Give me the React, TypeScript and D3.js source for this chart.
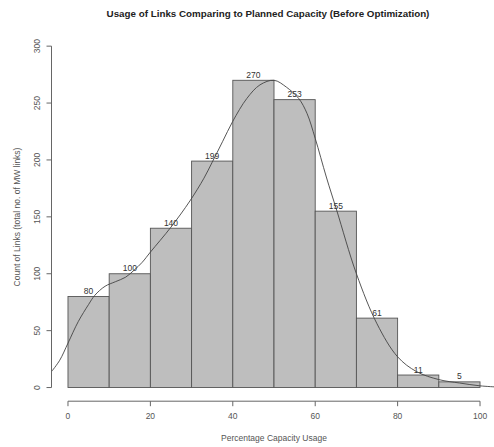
import React from 'react'
import * as d3 from 'd3'

// histogram bins (percentage capacity usage, width 10)
const binStarts = [0, 10, 20, 30, 40, 50, 60, 70, 80, 90]
const counts = [80, 100, 140, 199, 270, 253, 155, 61, 11, 5]

// density curve scaled to counts
const curveX = [-4, -2, 0, 2.5, 5, 6.5, 9, 11.5, 14, 16, 18, 20, 25, 29.6, 33, 35, 37.5, 40, 43.4, 46.6, 50, 53, 56, 58, 60, 62.7, 65.2, 70, 75, 80, 84.6, 90, 95, 100, 104]
const curveY = [14, 24, 39, 58, 73, 81, 89, 93, 97, 103, 110, 119, 141, 164, 184, 198, 216, 234, 254, 266, 270, 264, 254, 241, 219, 185, 156, 100, 56, 27, 14, 7, 4, 1.5, 0.5]

const xTicks = [0, 20, 40, 60, 80, 100]
const yTicks = [0, 50, 100, 150, 200, 250, 300]

const W = 494
const H = 447

export default function App() {
  // R style plot region: 4% padding around the data range
  const x = d3.scaleLinear().domain([-4, 104]).range([51.5, 496.5])
  const y = d3.scaleLinear().domain([-12, 312]).range([401.2, 32.5])

  const line = d3.line<number>()
    .x((d, i) => x(curveX[i]))
    .y(d => y(d))
    .curve(d3.curveCatmullRom)

  const axisY = y(-12)
  const axisX = x(-4)
  const font = 'Liberation Sans, Arial, sans-serif'

  return (
    <svg width={W} height={H} style={{ position: 'absolute', left: 0, top: 0 }} fontFamily={font}>
      <rect width={W} height={H} fill="#fff" />
      <text x={268} y={17} textAnchor="middle" fontSize={9.8} fontWeight="bold" fill="#222">
        Usage of Links Comparing to Planned Capacity (Before Optimization)
      </text>

      <clipPath id="plot">
        <rect x={51.5} y={32.5} width={445} height={368.7} />
      </clipPath>

      {counts.map((c, i) => (
        <rect key={i}
          x={x(binStarts[i])}
          y={y(c)}
          width={x(binStarts[i] + 10) - x(binStarts[i])}
          height={y(0) - y(c)}
          fill="#bebebe" stroke="#555" strokeWidth={0.9} />
      ))}

      {counts.map((c, i) => (
        <text key={i} x={x(binStarts[i] + 5)} y={y(c) - 2.5} textAnchor="middle" fontSize={8.5} fill="#333">
          {c}
        </text>
      ))}

      <path d={line(curveY) || ''} fill="none" stroke="#444" strokeWidth={0.9} clipPath="url(#plot)" />

      {/* x axis */}
      <line x1={x(0)} x2={x(100)} y1={axisY} y2={axisY} stroke="#666" />
      {xTicks.map(t => (
        <g key={t}>
          <line x1={x(t)} x2={x(t)} y1={axisY} y2={axisY + 5} stroke="#666" />
          <text x={x(t)} y={axisY + 18} textAnchor="middle" fontSize={8.5} fill="#555">{t}</text>
        </g>
      ))}
      <text x={274} y={441} textAnchor="middle" fontSize={8.5} fill="#555">Percentage Capacity Usage</text>

      {/* y axis */}
      <line x1={axisX} x2={axisX} y1={y(0)} y2={y(300)} stroke="#666" />
      {yTicks.map(t => (
        <g key={t}>
          <line x1={axisX} x2={axisX - 5} y1={y(t)} y2={y(t)} stroke="#666" />
          <text transform={`translate(${axisX - 12},${y(t)}) rotate(-90)`} textAnchor="middle" fontSize={8.5} fill="#555">{t}</text>
        </g>
      ))}
      <text transform={`translate(20,217) rotate(-90)`} textAnchor="middle" fontSize={8.5} fill="#555">
        Count of Links (total no. of MW links)
      </text>
    </svg>
  )
}
